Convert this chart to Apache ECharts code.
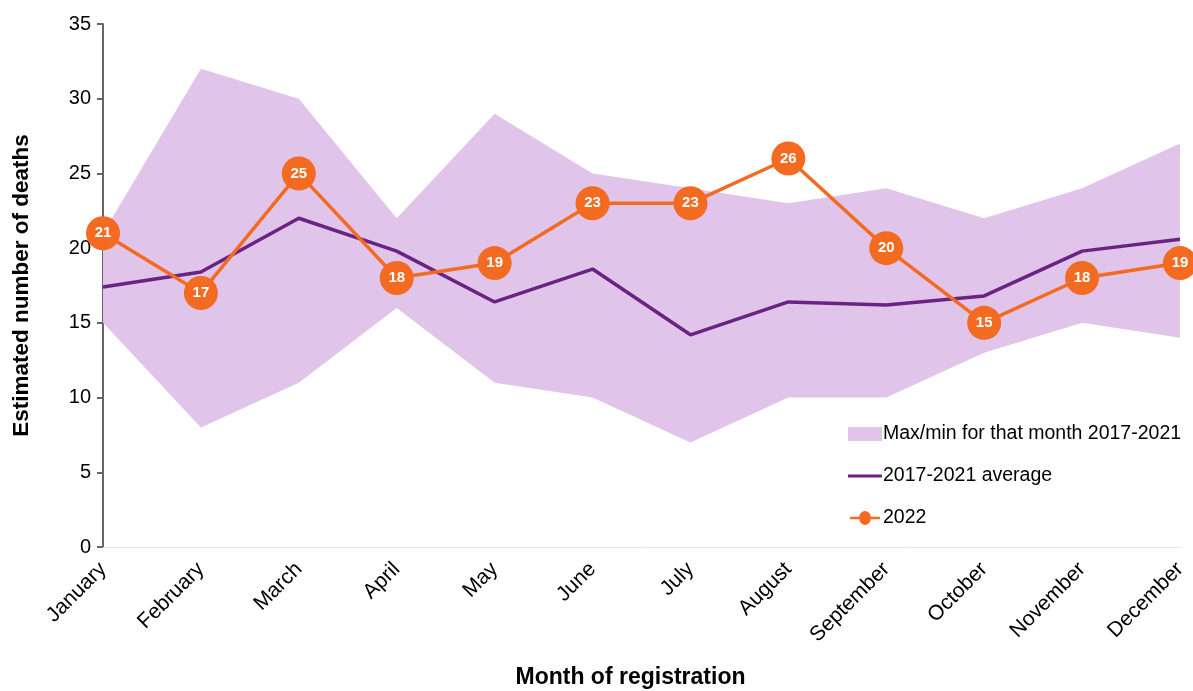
<!DOCTYPE html>
<html style="height: 100%">
<head>
    <meta charset="utf-8">
    <script src="https://cdn.jsdelivr.net/npm/echarts@6/dist/echarts.min.js"></script>
</head>
<body style="height: 100%; margin: 0">
    <div id="chart" style="width: 1193px; height: 691px"></div>
    <script type="text/javascript">
        var months = ['January', 'February', 'March', 'April', 'May', 'June', 'July',
            'August', 'September', 'October', 'November', 'December'];
        var minValues = [15, 8, 11, 16, 11, 10, 7, 10, 10, 13, 15, 14];
        var maxValues = [21, 32, 30, 22, 29, 25, 24, 23, 24, 22, 24, 27];
        var average = [17.4, 18.4, 22, 19.8, 16.4, 18.6, 14.2, 16.4, 16.2, 16.8, 19.8, 20.6];
        var deaths2022 = [21, 17, 25, 18, 19, 23, 23, 26, 20, 15, 18, 19];

        var bandName = 'Max/min for that month 2017-2021';
        var avgName = '2017-2021 average';
        var curName = '2022';

        var spread = maxValues.map(function (v, i) { return v - minValues[i]; });

        var myChart = echarts.init(document.getElementById('chart'));
        myChart.setOption({
            animation: false,
            textStyle: { fontFamily: 'Liberation Sans, Arial, sans-serif' },
            grid: { left: 103, right: 13, top: 24, bottom: 144, outerBoundsMode: 'none', containLabel: false },
            legend: {
                orient: 'vertical',
                left: 843,
                top: 419,
                itemGap: 22,
                itemWidth: 34,
                itemHeight: 14,
                textStyle: { fontSize: 19.5, color: '#000', padding: [0, 0, 0, -4] },
                data: [
                    { name: bandName, icon: 'rect', itemStyle: { color: '#e1c4ea' } },
                    { name: avgName, icon: 'path://M0,0 M34,14 M0,5.5 L34,5.5 L34,8.5 L0,8.5 Z' },
                    { name: curName, icon: 'path://M0,0 M34,14 M0,5.5 L10.5,5.5 A6.5,6.5 0 0 1 23.5,5.5 L34,5.5 L34,8.5 L23.5,8.5 A6.5,6.5 0 0 1 10.5,8.5 L0,8.5 Z' }
                ]
            },
            xAxis: {
                type: 'category',
                data: months,
                boundaryGap: false,
                axisLine: { lineStyle: { color: '#e6e6e6' } },
                axisTick: { show: false },
                axisLabel: { rotate: 45, fontSize: 21, color: '#000', margin: 19 },
                name: 'Month of registration',
                nameLocation: 'middle',
                nameGap: 119,
                nameTextStyle: { fontSize: 23, fontWeight: 'bold', color: '#000', padding: [0, 22, 0, 0] }
            },
            yAxis: {
                type: 'value',
                min: 0,
                max: 35,
                interval: 5,
                splitLine: { show: false },
                axisLine: { show: true, lineStyle: { color: '#666', width: 2 } },
                axisTick: { show: true, length: 6, lineStyle: { color: '#666', width: 2 } },
                axisLabel: { fontSize: 20, color: '#000', margin: 12 },
                name: 'Estimated number of deaths',
                nameLocation: 'middle',
                nameGap: 70,
                nameTextStyle: { fontSize: 22.5, fontWeight: 'bold', color: '#000' }
            },
            series: [
                {
                    name: 'base',
                    type: 'line',
                    data: minValues,
                    stack: 'band',
                    symbol: 'none',
                    lineStyle: { opacity: 0 },
                    silent: true
                },
                {
                    name: bandName,
                    type: 'line',
                    data: spread,
                    stack: 'band',
                    symbol: 'none',
                    lineStyle: { opacity: 0 },
                    itemStyle: { color: '#e1c4ea' },
                    areaStyle: { color: '#e1c4ea', opacity: 1 }
                },
                {
                    name: avgName,
                    type: 'line',
                    data: average,
                    symbol: 'none',
                    itemStyle: { color: '#6b2383' },
                    lineStyle: { color: '#6b2383', width: 3.5 }
                },
                {
                    name: curName,
                    type: 'line',
                    data: deaths2022,
                    symbol: 'circle',
                    symbolSize: 34,
                    itemStyle: { color: '#f26b21' },
                    lineStyle: { color: '#f26b21', width: 3.5 },
                    label: {
                        show: true,
                        position: 'inside',
                        color: '#fff',
                        fontWeight: 'bold',
                        fontSize: 15
                    }
                }
            ]
        });
    </script>
</body>
</html>
